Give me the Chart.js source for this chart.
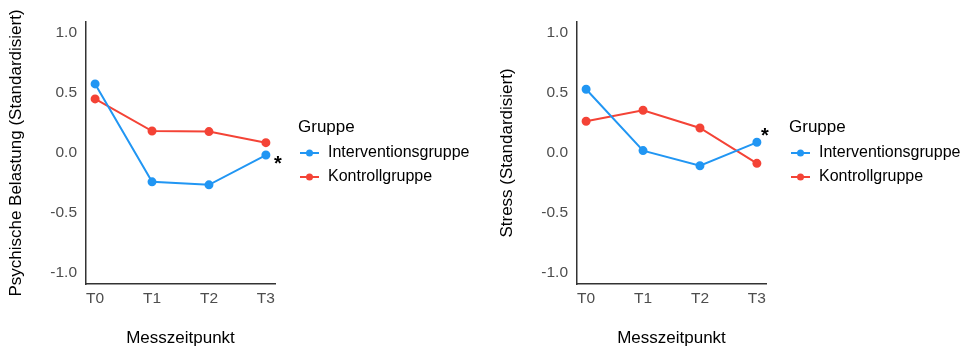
<!DOCTYPE html>
<html>
<head>
<meta charset="utf-8">
<script src="https://cdn.jsdelivr.net/npm/chart.js@4.4.1/dist/chart.umd.min.js"></script>
<style>
  body { margin: 0; background: #fff; }
  .panel { position: absolute; top: 0; width: 480px; height: 349px; }
  #p1 { left: 0; }
  #p2 { left: 491px; }
</style>
</head>
<body>
<div class="panel" id="p1"><canvas id="c1"></canvas></div>
<div class="panel" id="p2"><canvas id="c2"></canvas></div>
<script>
const categories = ['T0', 'T1', 'T2', 'T3'];
const yTicks = [-1.0, -0.5, 0.0, 0.5, 1.0];
const groupNames = ['Interventionsgruppe', 'Kontrollgruppe'];

// Psychische Belastung
const belastungIntervention = [0.575, -0.24, -0.265, -0.017];
const belastungKontrolle = [0.45, 0.183, 0.178, 0.086];
// Stress
const stressIntervention = [0.53, 0.02, -0.106, 0.089];
const stressKontrolle = [0.264, 0.356, 0.208, -0.086];

// position of the significance star (x in category units, y in data units)
const starBelastung = [3.21, -0.05];
const starStress = [3.14, 0.18];

const BLUE = '#2196F3';
const RED = '#F44336';
const FONT = "'Liberation Sans', Arial, sans-serif";

const legendPlugin = {
  id: 'gruppeLegend',
  afterDraw(chart) {
    const ctx = chart.ctx;
    ctx.save();
    ctx.textBaseline = 'middle';
    ctx.textAlign = 'left';
    ctx.fillStyle = '#000';
    ctx.font = '17px ' + FONT;
    ctx.fillText('Gruppe', 298, 127);
    chart.data.datasets.forEach((ds, i) => {
      const y = 153 + i * 24;
      ctx.strokeStyle = ds.borderColor;
      ctx.lineWidth = 2;
      ctx.beginPath();
      ctx.moveTo(300, y);
      ctx.lineTo(319, y);
      ctx.stroke();
      ctx.fillStyle = ds.borderColor;
      ctx.beginPath();
      ctx.arc(309.5, y, 3.5, 0, Math.PI * 2);
      ctx.fill();
      ctx.fillStyle = '#000';
      ctx.font = '16px ' + FONT;
      ctx.fillText(ds.label, 328, y);
    });
    // significance star
    const star = chart.options.plugins.gruppeLegend.star;
    const sx = chart.scales.x.getPixelForValue(star[0]);
    const sy = chart.scales.y.getPixelForValue(star[1]);
    ctx.fillStyle = '#000';
    ctx.textAlign = 'center';
    ctx.font = 'bold 20px ' + FONT;
    ctx.fillText('*', sx, sy + 5);
    ctx.restore();
  }
};

function makeChart(id, yTitle, inter, kontr, star) {
  const mkSet = (label, data, color) => ({
    label: label,
    data: data.map((v, i) => ({ x: i, y: v })),
    borderColor: color,
    backgroundColor: color,
    borderWidth: 2,
    pointRadius: 3.5,
    pointHoverRadius: 3.5,
    tension: 0
  });
  return new Chart(document.getElementById(id), {
    type: 'line',
    data: {
      datasets: [
        mkSet(groupNames[0], inter, BLUE),
        mkSet(groupNames[1], kontr, RED)
      ]
    },
    options: {
      responsive: true,
      maintainAspectRatio: false,
      animation: false,
      layout: { padding: { left: 0, right: 205, top: 22, bottom: 0 } },
      plugins: {
        legend: { display: false },
        tooltip: { enabled: false },
        gruppeLegend: { star: star }
      },
      scales: {
        x: {
          type: 'linear',
          min: -0.16,
          max: 3.16,
          afterBuildTicks: (s) => { s.ticks = categories.map((c, i) => ({ value: i })); },
          afterFit: (s) => { s.height = 65; },
          grid: { display: false, drawTicks: false },
          border: { display: true, color: '#333', width: 1.5 },
          ticks: {
            callback: (v) => categories[v],
            color: '#4d4d4d',
            font: { family: FONT, size: 15.5 },
            padding: 5,
            maxRotation: 0
          },
          title: {
            display: true,
            text: 'Messzeitpunkt',
            color: '#000',
            font: { family: FONT, size: 17 },
            padding: { top: 0, bottom: 0 }
          }
        },
        y: {
          min: -1.09,
          max: 1.09,
          afterBuildTicks: (s) => { s.ticks = yTicks.map(v => ({ value: v })); },
          afterFit: (s) => { s.width = 86; },
          grid: { display: false, drawTicks: false },
          border: { display: true, color: '#333', width: 1.5 },
          ticks: {
            callback: (v) => v.toFixed(1),
            color: '#4d4d4d',
            font: { family: FONT, size: 15.5 },
            padding: 9
          },
          title: {
            display: true,
            text: yTitle,
            color: '#000',
            font: { family: FONT, size: 17 },
            padding: { top: 6, bottom: 0 }
          }
        }
      }
    },
    plugins: [legendPlugin]
  });
}

makeChart('c1', 'Psychische Belastung (Standardisiert)', belastungIntervention, belastungKontrolle, starBelastung);
makeChart('c2', 'Stress (Standardisiert)', stressIntervention, stressKontrolle, starStress);
</script>
</body>
</html>
